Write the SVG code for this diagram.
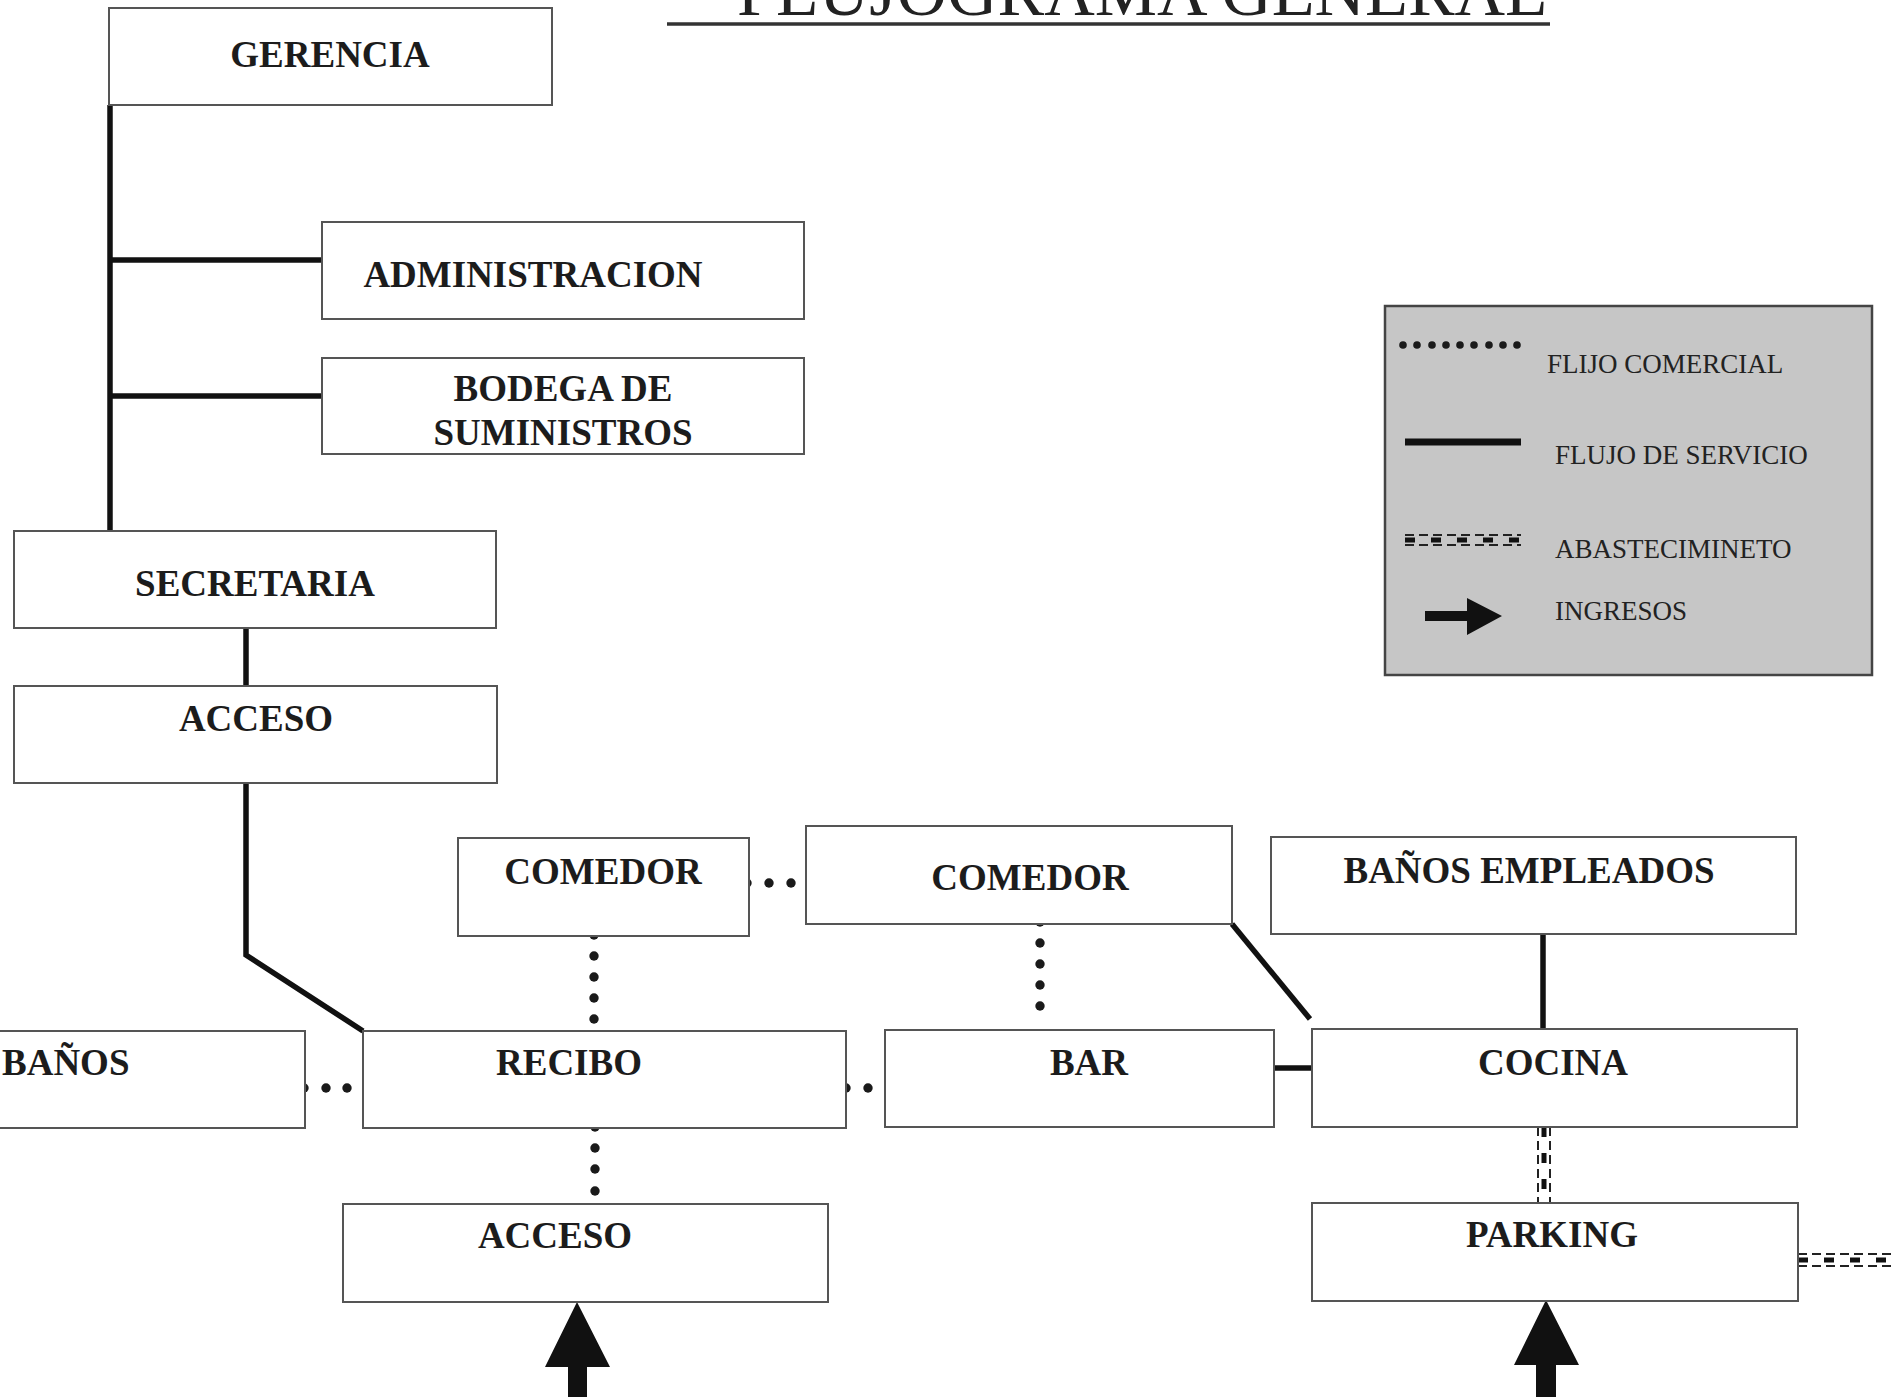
<svg xmlns="http://www.w3.org/2000/svg" width="1895" height="1397" viewBox="0 0 1895 1397">
<defs>
<style>
.box{fill:#fff;stroke:#555;stroke-width:2}
.lbl{font-family:"Liberation Serif","Times New Roman",serif;font-weight:bold;font-size:37px;fill:#1c1c1c;text-anchor:middle}
.leg{font-family:"Liberation Serif","Times New Roman",serif;font-size:27px;fill:#222}
.svc{stroke:#111;stroke-width:5.5;fill:none}
.dot{fill:#1a1a1a}
.ab1{stroke:#222;stroke-width:2;stroke-dasharray:9 5;fill:none}
.ab2{stroke:#111;stroke-width:5;stroke-dasharray:10 16;fill:none}
.arr{fill:#111}
</style>
</defs>
<rect x="0" y="0" width="1895" height="1397" fill="#fff"/>

<g id="title">
<text x="737" y="15" font-family="'Liberation Serif','Times New Roman',serif" font-size="70" fill="#222">FLUJOGRAMA GENERAL</text>
<line x1="667" y1="24" x2="1550" y2="24" stroke="#333" stroke-width="3.5"/>
</g>

<g id="connectors">
<path class="svc" d="M110 105 V531"/>
<path class="svc" d="M110 260 H322"/>
<path class="svc" d="M110 396 H322"/>
<path class="svc" d="M246 628 V686"/>
<path class="svc" d="M246 783 V955 L363 1031"/>
<path class="svc" d="M1232 924 L1310 1019"/>
<path class="svc" stroke-width="4" d="M1543 934 V1029"/>
<path class="svc" stroke-width="7" d="M1274 1068 H1312"/>
<g id="dots">
<circle class="dot" cx="747" cy="883" r="4.7"/><circle class="dot" cx="769" cy="883" r="4.7"/><circle class="dot" cx="791" cy="883" r="4.7"/>
<circle class="dot" cx="594" cy="935" r="4.7"/><circle class="dot" cx="594" cy="956" r="4.7"/><circle class="dot" cx="594" cy="977" r="4.7"/><circle class="dot" cx="594" cy="998" r="4.7"/><circle class="dot" cx="594" cy="1019" r="4.7"/>
<circle class="dot" cx="1040" cy="922" r="4.7"/><circle class="dot" cx="1040" cy="943" r="4.7"/><circle class="dot" cx="1040" cy="964" r="4.7"/><circle class="dot" cx="1040" cy="985" r="4.7"/><circle class="dot" cx="1040" cy="1006" r="4.7"/>
<circle class="dot" cx="304" cy="1088" r="4.7"/><circle class="dot" cx="326" cy="1088" r="4.7"/><circle class="dot" cx="347" cy="1088" r="4.7"/>
<circle class="dot" cx="846" cy="1088" r="4.7"/><circle class="dot" cx="868" cy="1088" r="4.7"/>
<circle class="dot" cx="595" cy="1127" r="4.7"/><circle class="dot" cx="595" cy="1148" r="4.7"/><circle class="dot" cx="595" cy="1169" r="4.7"/><circle class="dot" cx="595" cy="1191" r="4.7"/>
</g>
<g id="abastecimiento">
<path class="ab1" d="M1538 1127 V1203"/>
<path class="ab1" d="M1550 1127 V1203"/>
<path class="ab2" d="M1544 1127 V1203"/>
<path class="ab1" d="M1798 1254 H1895"/>
<path class="ab1" d="M1798 1266 H1895"/>
<path class="ab2" d="M1798 1260 H1895"/>
</g>
<polygon class="arr" points="577,1302 610,1367 587,1367 587,1397 568,1397 568,1367 545,1367"/>
<polygon class="arr" points="1546,1300 1579,1365 1556,1365 1556,1397 1536,1397 1536,1365 1514,1365"/>
</g>

<g id="gerencia"><rect class="box" x="109" y="8" width="443" height="97"/><text class="lbl" x="330" y="67">GERENCIA</text></g>
<g id="administracion"><rect class="box" x="322" y="222" width="482" height="97"/><text class="lbl" x="533" y="287">ADMINISTRACION</text></g>
<g id="bodega"><rect class="box" x="322" y="358" width="482" height="96"/><text class="lbl" x="563" y="401">BODEGA DE</text><text class="lbl" x="563" y="445">SUMINISTROS</text></g>
<g id="secretaria"><rect class="box" x="14" y="531" width="482" height="97"/><text class="lbl" x="255" y="596">SECRETARIA</text></g>
<g id="acceso1"><rect class="box" x="14" y="686" width="483" height="97"/><text class="lbl" x="256" y="731">ACCESO</text></g>
<g id="comedor1"><rect class="box" x="458" y="838" width="291" height="98"/><text class="lbl" x="603" y="884">COMEDOR</text></g>
<g id="comedor2"><rect class="box" x="806" y="826" width="426" height="98"/><text class="lbl" x="1030" y="890">COMEDOR</text></g>
<g id="banos-empleados"><rect class="box" x="1271" y="837" width="525" height="97"/><text class="lbl" x="1529" y="883">BAÑOS EMPLEADOS</text></g>
<g id="banos"><rect class="box" x="-3" y="1031" width="308" height="97"/><text class="lbl" x="2" y="1075" style="text-anchor:start">BAÑOS</text></g>
<g id="recibo"><rect class="box" x="363" y="1031" width="483" height="97"/><text class="lbl" x="569" y="1075">RECIBO</text></g>
<g id="bar"><rect class="box" x="885" y="1030" width="389" height="97"/><text class="lbl" x="1089" y="1075">BAR</text></g>
<g id="cocina"><rect class="box" x="1312" y="1029" width="485" height="98"/><text class="lbl" x="1553" y="1075">COCINA</text></g>
<g id="acceso2"><rect class="box" x="343" y="1204" width="485" height="98"/><text class="lbl" x="555" y="1248">ACCESO</text></g>
<g id="parking"><rect class="box" x="1312" y="1203" width="486" height="98"/><text class="lbl" x="1552" y="1247">PARKING</text></g>

<g id="legend">
<rect x="1385" y="306" width="487" height="369" fill="#c6c6c6" stroke="#444" stroke-width="2.5"/>
<circle class="dot" cx="1403" cy="345" r="3.8"/><circle class="dot" cx="1417" cy="345" r="3.8"/><circle class="dot" cx="1432" cy="345" r="3.8"/><circle class="dot" cx="1446" cy="345" r="3.8"/><circle class="dot" cx="1460" cy="345" r="3.8"/><circle class="dot" cx="1474" cy="345" r="3.8"/><circle class="dot" cx="1489" cy="345" r="3.8"/><circle class="dot" cx="1503" cy="345" r="3.8"/><circle class="dot" cx="1517" cy="345" r="3.8"/>
<text class="leg" x="1547" y="373">FLIJO COMERCIAL</text>
<line x1="1405" y1="442" x2="1521" y2="442" stroke="#111" stroke-width="7"/>
<text class="leg" x="1555" y="464">FLUJO DE SERVICIO</text>
<path class="ab1" d="M1405 535 H1521"/>
<path class="ab1" d="M1405 545 H1521"/>
<path class="ab2" d="M1405 540 H1521"/>
<text class="leg" x="1555" y="558">ABASTECIMINETO</text>
<polygon class="arr" points="1425,611 1467,611 1467,598 1502,616 1467,635 1467,621 1425,621"/>
<text class="leg" x="1555" y="620">INGRESOS</text>
</g>
</svg>
